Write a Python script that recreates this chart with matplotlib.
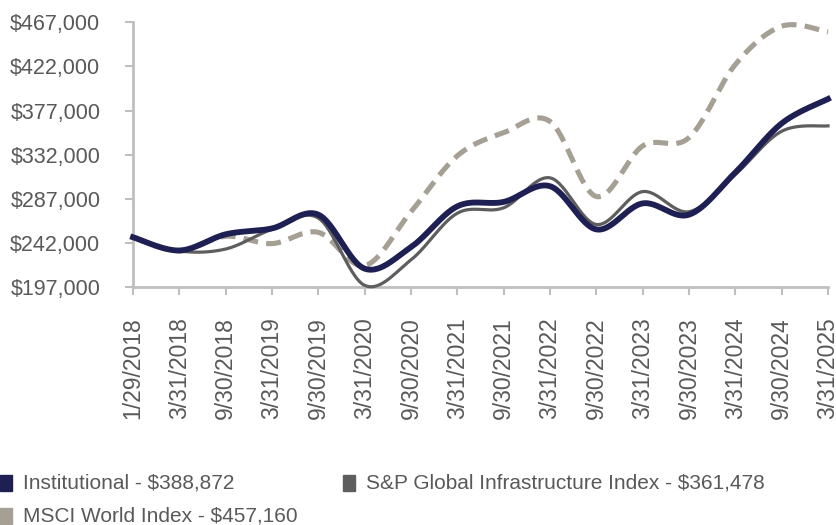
import matplotlib
matplotlib.use('Agg')
import matplotlib.pyplot as plt
import numpy as np
from matplotlib.ticker import FuncFormatter

dates = ['1/29/2018', '3/31/2018', '9/30/2018', '3/31/2019', '9/30/2019',
         '3/31/2020', '9/30/2020', '3/31/2021', '9/30/2021', '3/31/2022',
         '9/30/2022', '3/31/2023', '9/30/2023', '3/31/2024', '9/30/2024',
         '3/31/2025']
institutional = [248000, 234500, 251000, 257000, 271000, 216000, 238000, 279500,
                 284000, 300000, 256000, 282500, 271000, 314000, 364000, 388872]
sp_infra = [248000, 234000, 236000, 256000, 267500, 199000, 225000, 272500,
            278000, 308500, 261000, 294500, 274000, 312000, 356000, 361478]
msci_world = [248000, 234000, 249000, 241500, 253000, 219000, 274000, 331000,
              354500, 366000, 289500, 341000, 349500, 424000, 463000, 457160]
legend_labels = ['Institutional - $388,872',
                 'S&P Global Infrastructure Index - $361,478',
                 'MSCI World Index - $457,160']
y_ticks = [197000, 242000, 287000, 332000, 377000, 422000, 467000]

NAVY = '#1e1f52'
GRAY = '#5e5e5e'
TAN = '#a69f94'
AXIS = '#bfbfbf'
TEXT = '#595959'


def smooth(y, n=30):
    # Excel-style smoothed line: Catmull-Rom segments as cubic Bezier
    x = np.arange(len(y), dtype=float)
    y = np.asarray(y, dtype=float)
    px = np.concatenate([[x[0]], x, [x[-1]]])
    py = np.concatenate([[y[0]], y, [y[-1]]])
    t = np.linspace(0, 1, n)[:, None]
    xs, ys = [], []
    for i in range(len(y) - 1):
        p0 = np.array([px[i + 1], py[i + 1]])
        p3 = np.array([px[i + 2], py[i + 2]])
        c1 = p0 + (p3 - np.array([px[i], py[i]])) / 6
        c2 = p3 - (np.array([px[i + 3], py[i + 3]]) - p0) / 6
        pts = ((1 - t) ** 3 * p0 + 3 * (1 - t) ** 2 * t * c1
               + 3 * (1 - t) * t ** 2 * c2 + t ** 3 * p3)
        xs.append(pts[:, 0])
        ys.append(pts[:, 1])
    return np.concatenate(xs), np.concatenate(ys)


plt.rcParams['font.family'] = ['Liberation Sans', 'DejaVu Sans']

fig = plt.figure(figsize=(8.36, 5.25), dpi=100)
ax = fig.add_axes([133 / 836, 1 - 287.3 / 525, (828 - 133) / 836, (287.3 - 22.3) / 525])

sx, sy = smooth(msci_world)
ax.plot(sx, sy, color=TAN, lw=3.7, dashes=(2.9, 1.6), solid_capstyle='butt', clip_on=False, zorder=3)
sx, sy = smooth(sp_infra)
ax.plot(sx, sy, color=GRAY, lw=2.3, clip_on=False, zorder=4)
sx, sy = smooth(institutional)
ax.plot(sx, sy, color=NAVY, lw=4.2, clip_on=False, zorder=5)

ax.set_xlim(0, len(dates) - 1)
ax.set_ylim(197000, 467000)
ax.set_yticks(y_ticks)
ax.yaxis.set_major_formatter(FuncFormatter(lambda v, p: f'${v:,.0f}'))
ax.set_xticks(range(len(dates)))
ax.set_xticklabels(dates, rotation=90)

for s in ['top', 'right']:
    ax.spines[s].set_visible(False)
for s in ['left', 'bottom']:
    ax.spines[s].set_color(AXIS)
    ax.spines[s].set_linewidth(2)
ax.tick_params(axis='both', colors=AXIS, width=1.5, length=5.5, labelcolor=TEXT, labelsize=15.5)
ax.tick_params(axis='x', pad=16, labelsize=16.5)
ax.tick_params(axis='y', pad=18)

leg_font = ['Liberation Sans Narrow', 'Liberation Sans', 'DejaVu Sans']
legend_items = [(NAVY, 0, 483), (GRAY, 343, 483), (TAN, 0, 516)]
for (c, x0, y0), lab in zip(legend_items, legend_labels):
    fig.patches.append(plt.Rectangle((x0 / 836, 1 - (y0 + 8) / 525), 12 / 836, 16 / 525,
                                     transform=fig.transFigure, color=c))
    fig.text((x0 + 23) / 836, 1 - y0 / 525, lab, ha='left', va='center',
             fontsize=15, color=TEXT, family=leg_font)

fig.savefig('out.png', dpi=100)
